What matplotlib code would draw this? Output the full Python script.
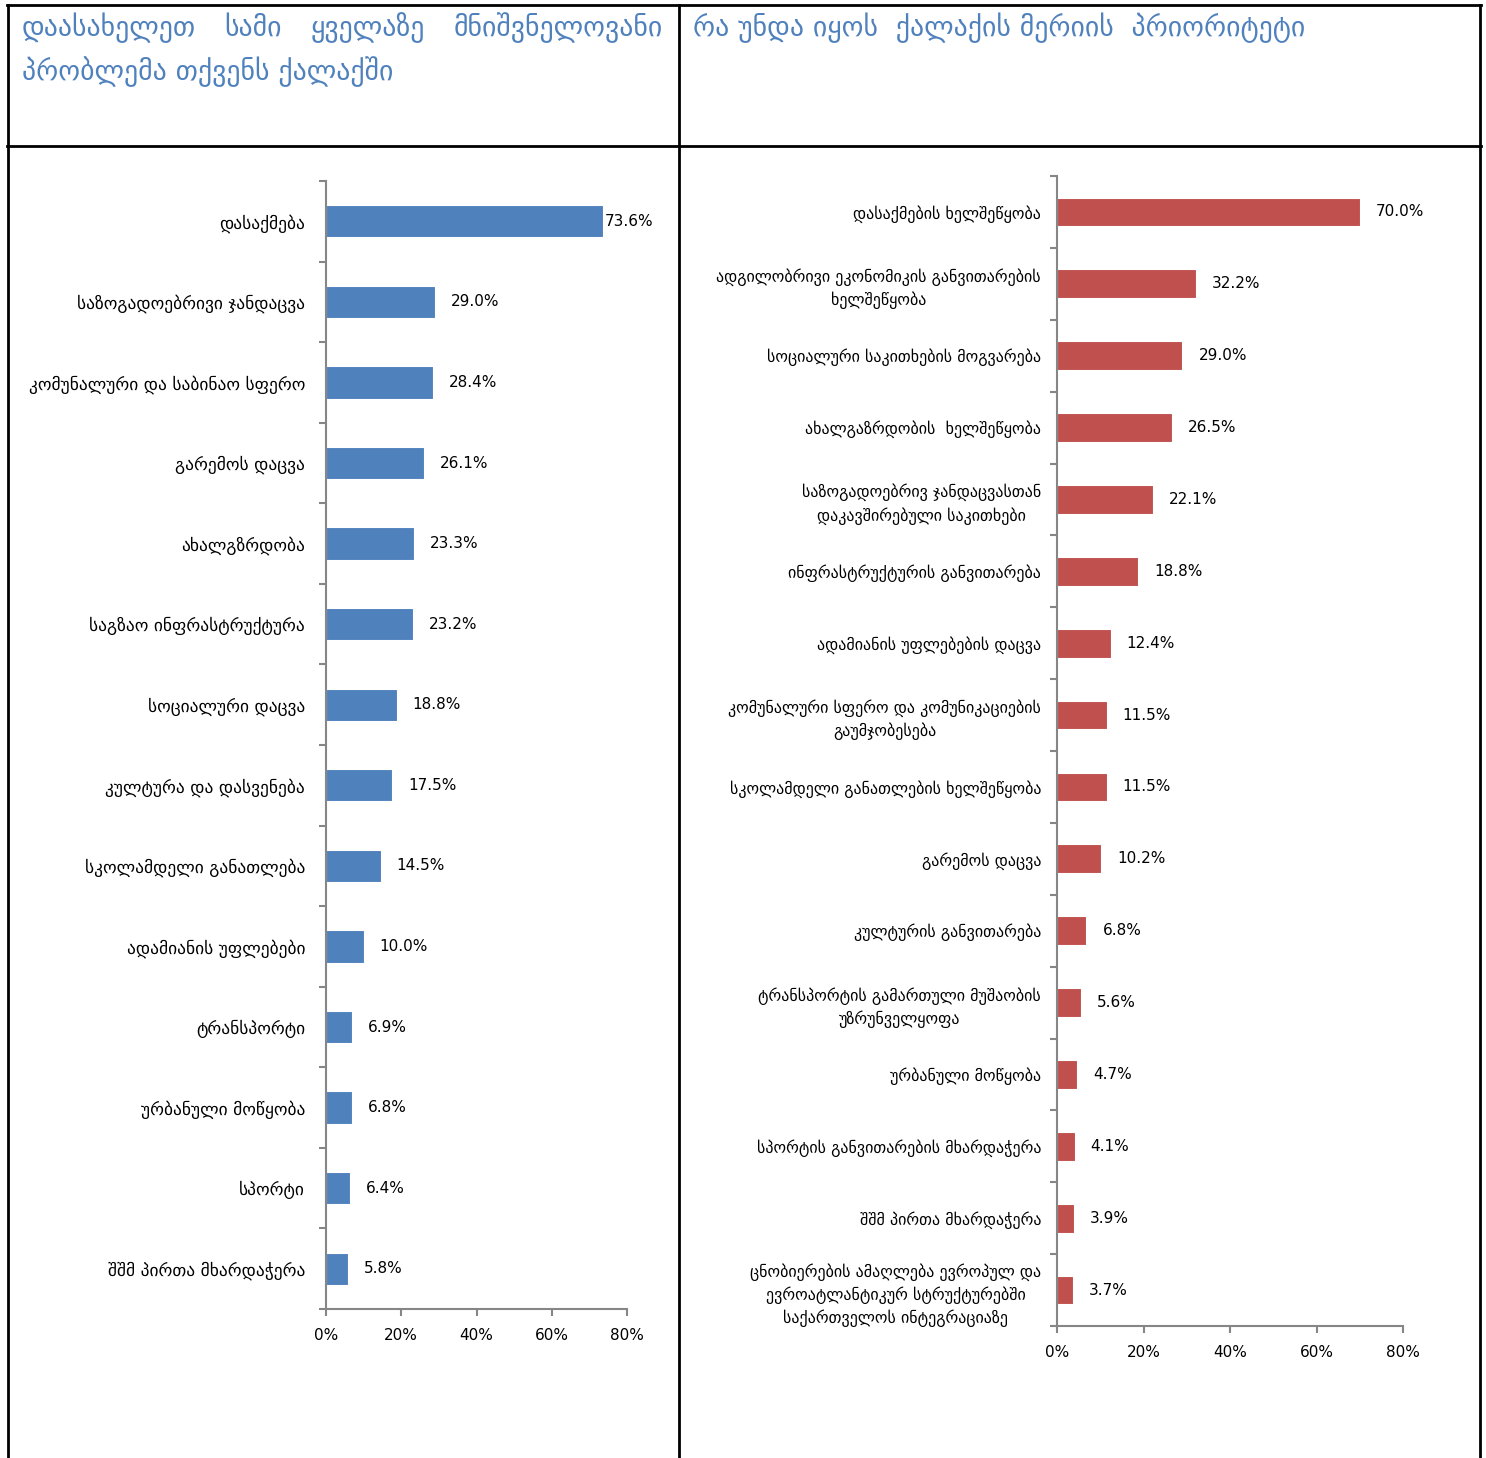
import matplotlib.pyplot as plt
import matplotlib.ticker as mticker
from matplotlib.lines import Line2D

# left chart data
left_cats = ['დასაქმება', 'საზოგადოებრივი ჯანდაცვა', 'კომუნალური და საბინაო სფერო',
             'გარემოს დაცვა', 'ახალგზრდობა', 'საგზაო ინფრასტრუქტურა', 'სოციალური დაცვა',
             'კულტურა და დასვენება', 'სკოლამდელი განათლება', 'ადამიანის უფლებები',
             'ტრანსპორტი', 'ურბანული მოწყობა', 'სპორტი', 'შშმ პირთა მხარდაჭერა']
left_vals = [73.6, 29.0, 28.4, 26.1, 23.3, 23.2, 18.8, 17.5, 14.5, 10.0, 6.9, 6.8, 6.4, 5.8]

# right chart data
right_cats = ['დასაქმების ხელშეწყობა',
              'ადგილობრივი ეკონომიკის განვითარების\nხელშეწყობა',
              'სოციალური საკითხების მოგვარება',
              'ახალგაზრდობის  ხელშეწყობა',
              'საზოგადოებრივ ჯანდაცვასთან\nდაკავშირებული საკითხები',
              'ინფრასტრუქტურის განვითარება',
              'ადამიანის უფლებების დაცვა',
              'კომუნალური სფერო და კომუნიკაციების\nგაუმჯობესება',
              'სკოლამდელი განათლების ხელშეწყობა',
              'გარემოს დაცვა',
              'კულტურის განვითარება',
              'ტრანსპორტის გამართული მუშაობის\nუზრუნველყოფა',
              'ურბანული მოწყობა',
              'სპორტის განვითარების მხარდაჭერა',
              'შშმ პირთა მხარდაჭერა',
              'ცნობიერების ამაღლება ევროპულ და\nევროატლანტიკურ სტრუქტურებში\nსაქართველოს ინტეგრაციაზე']
right_vals = [70.0, 32.2, 29.0, 26.5, 22.1, 18.8, 12.4, 11.5, 11.5, 10.2, 6.8, 5.6, 4.7, 4.1, 3.9, 3.7]

left_title_words = ['დაასახელეთ', 'სამი', 'ყველაზე', 'მნიშვნელოვანი']
left_title_line2 = 'პრობლემა თქვენს ქალაქში'
right_title = 'რა უნდა იყოს  ქალაქის მერიის  პრიორიტეტი'

x_ticks = [0, 20, 40, 60, 80]

plt.rcParams['font.family'] = ['DejaVu Sans']
axis_gray = '#868686'
title_blue = '#4F81BD'
W, H = 1486, 1458

fig = plt.figure(figsize=(W / 100, H / 100), dpi=100)


def draw_bars(ax, cats, vals, color, label_fs, pad):
    n = len(cats)
    pos = list(range(n))
    ax.barh(pos, vals, height=0.4, color=color, edgecolor='white', linewidth=0.8)
    ax.set_ylim(n - 0.5, -0.5)
    ax.set_xlim(0, 80)
    # category labels at centres, tick marks at boundaries
    ax.set_yticks(pos)
    ax.set_yticklabels(cats, fontsize=label_fs, multialignment='center', linespacing=1.4)
    ax.tick_params(axis='y', which='major', length=0, pad=pad)
    ax.set_yticks([i - 0.5 for i in range(n + 1)], minor=True)
    ax.tick_params(axis='y', which='minor', length=5, width=1.5, color=axis_gray)
    ax.set_xticks(x_ticks)
    ax.xaxis.set_major_formatter(mticker.FuncFormatter(lambda v, p: '%d%%' % v))
    ax.tick_params(axis='x', length=5, width=1.5, color=axis_gray, labelsize=11, pad=9)
    for s in ['top', 'right']:
        ax.spines[s].set_visible(False)
    for s in ['left', 'bottom']:
        ax.spines[s].set_color(axis_gray)
        ax.spines[s].set_linewidth(1.5)
    for p, v in zip(pos, vals):
        off = 2 if v > 72 else 16
        ax.annotate('%.1f%%' % v, (v, p), xytext=(off, 0), textcoords='offset pixels',
                    va='center', ha='left', fontsize=11)


ax1 = fig.add_axes([326 / W, 1 - 1309 / H, 301 / W, 1128 / H])
draw_bars(ax1, left_cats, left_vals, '#4F81BD', 12.5, 15)

ax2 = fig.add_axes([1057 / W, 1 - 1326 / H, 346 / W, 1150 / H])
draw_bars(ax2, right_cats, right_vals, '#C0504D', 11.5, 11.5)

# titles; first line of the left one is spread across the cell like justified text
title_fs = 20
renderer = fig.canvas.get_renderer()
word_txts = [fig.text(0, 1 - 28 / H, w, color=title_blue, fontsize=title_fs, va='center', ha='left')
             for w in left_title_words]
widths = [t.get_window_extent(renderer).width for t in word_txts]
gap = (663 - 22 - sum(widths)) / (len(widths) - 1)
x = 22
for t, w in zip(word_txts, widths):
    t.set_x(x / W)
    x += w + gap
fig.text(22 / W, 1 - 72 / H, left_title_line2, color=title_blue, fontsize=title_fs,
         va='center', ha='left')
fig.text(693 / W, 1 - 28 / H, right_title, color=title_blue, fontsize=title_fs,
         va='center', ha='left')


# table borders
def px_line(x0, y0, x1, y1, lw=2):
    fig.add_artist(Line2D([x0 / W, x1 / W], [1 - y0 / H, 1 - y1 / H], color='black', lw=lw,
                          transform=fig.transFigure))


px_line(7, 5, 1481, 5)
px_line(7, 146, 1481, 146)
px_line(8, 5, 8, 1458)
px_line(679, 5, 679, 1458)
px_line(1480, 5, 1480, 1458)

fig.savefig('out.png', dpi=100)
